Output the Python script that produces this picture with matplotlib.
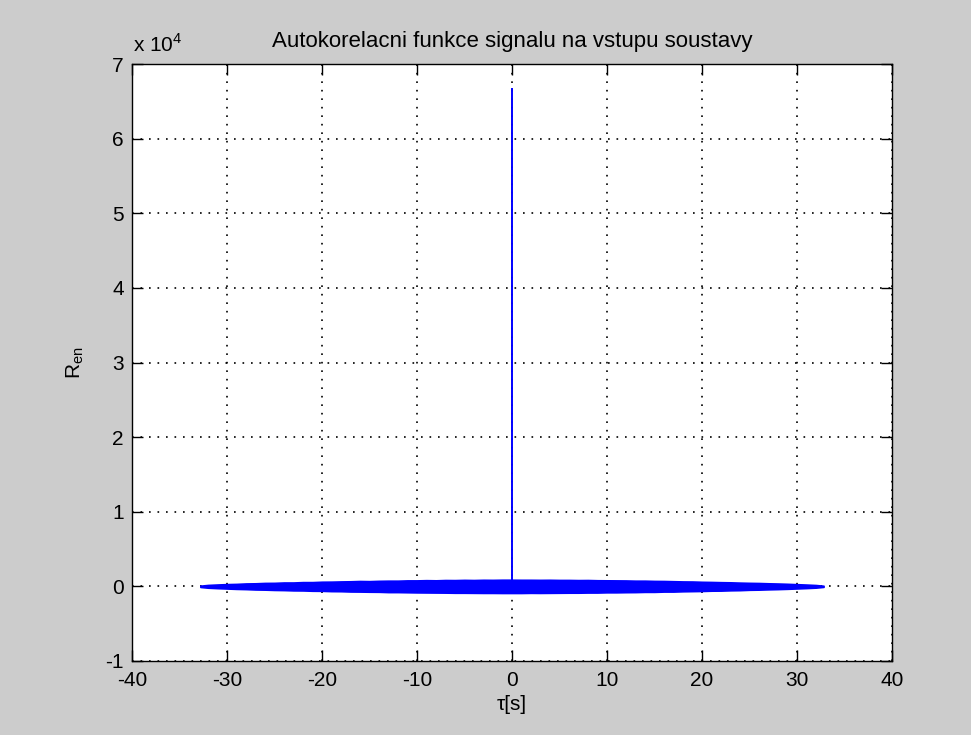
import matplotlib
matplotlib.use("Agg")
import matplotlib.pyplot as plt
from matplotlib.ticker import FuncFormatter

# ---- data ----
title = "Autokorelacni funkce signalu na vstupu soustavy"
xlabel = "\u03c4[s]"
ylabel = "R$_{\\mathregular{en}}$"

# envelope of the noisy autocorrelation band (lag in s, value)
lag = [-32.8, -32, -31, -30, -29, -28, -27, -26, -25, -24, -23, -22, -21, -20, -19, -18, -17,
       -16, -15, -14, -13, -12, -11, -10, -9, -8, -7, -6, -5, -4, -3, -2, -1,
       0, 1, 2, 3, 4, 5, 6, 7, 8, 9, 10, 11, 12, 13, 14, 15, 16,
       17, 18, 19, 20, 21, 22, 23, 24, 25, 26, 27, 28, 29, 30, 31, 32, 32.8]
upper = [90, 190, 250, 300, 330, 390, 410, 460, 470, 520, 520, 570, 570, 620, 630, 660, 680,
         720, 700, 740, 760, 760, 800, 800, 830, 810, 850, 840, 870, 850, 880, 870, 890,
         890, 880, 880, 870, 880, 860, 860, 840, 850, 820, 810, 800, 790, 760, 760, 730, 720,
         690, 660, 650, 610, 590, 560, 540, 500, 470, 450, 410, 380, 340, 290, 240, 180, 80]
lower = [-80, -180, -240, -290, -340, -370, -420, -440, -480, -500, -540, -550, -590, -600, -640, -650, -690,
         -700, -720, -730, -770, -770, -790, -810, -820, -830, -840, -860, -860, -870, -880, -880, -890,
         -890, -890, -870, -880, -870, -860, -850, -850, -830, -830, -800, -800, -780, -770, -740, -740, -700,
         -700, -660, -640, -620, -580, -570, -530, -510, -460, -440, -400, -370, -330, -280, -230, -170, -70]

peak_lag = [0, 0]
peak_val = [0, 66600]

xticks = [-40, -30, -20, -10, 0, 10, 20, 30, 40]
yticks = [-10000, 0, 10000, 20000, 30000, 40000, 50000, 60000, 70000]

plt.rcParams['font.family'] = ['Liberation Sans', 'DejaVu Sans']

fig = plt.figure(figsize=(9.71, 7.35), dpi=100, facecolor='#cccccc')
ax = fig.add_axes([0.1359, 0.1007, 0.7827, 0.8122])
ax.set_facecolor('white')

ax.fill_between(lag, lower, upper, color='#0000ff', linewidth=1.2, edgecolor='#0000ff')
ax.plot(peak_lag, peak_val, color='#0000ff', linewidth=1.4)

ax.set_xlim(-40, 40)
ax.set_ylim(-10000, 70000)
ax.set_xticks(xticks)
ax.set_yticks(yticks)
ax.yaxis.set_major_formatter(FuncFormatter(lambda v, p: f"{v/1e4:g}"))
ax.xaxis.set_major_formatter(FuncFormatter(lambda v, p: f"{v:g}"))

ax.grid(True, color='black', linestyle=(0, (1, 4.1)), linewidth=1.2)
ax.set_axisbelow(True)
ax.tick_params(direction='in', top=True, right=True, length=8, width=1,
               labelsize=15, colors='black')
ax.tick_params(axis='x', pad=7)
ax.tick_params(axis='y', pad=6)
for s in ax.spines.values():
    s.set_linewidth(1.0)
    s.set_color('black')

ax.set_title(title, fontsize=16, pad=12)
ax.set_xlabel(xlabel, fontsize=15, labelpad=4)
ax.set_ylabel(ylabel, fontsize=15, labelpad=14)
ax.text(0.002, 1.014, "x 10$^{\\mathregular{4}}$", transform=ax.transAxes,
        fontsize=15, ha='left', va='bottom')

fig.savefig("out.png", dpi=100, facecolor=fig.get_facecolor())
